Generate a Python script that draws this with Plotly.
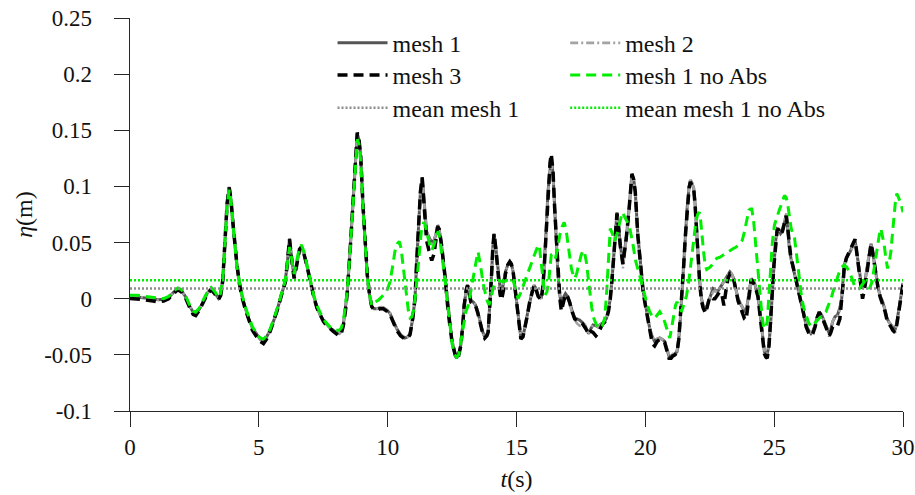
import plotly.graph_objects as go

# ---------------- data ----------------
mesh1_points = [
    (0.0, 0.002), (0.3, 0.0015), (0.6, 0.001), (0.9, 0.0), (1.1, -0.001), (1.3, -0.0005),
    (1.5, 0.001), (1.7, 0.006), (1.86, 0.009), (2.0, 0.007), (2.15, 0.002), (2.3, -0.006),
    (2.45, -0.012), (2.55, -0.013), (2.7, -0.009), (2.85, -0.002), (3.0, 0.005), (3.15, 0.009),
    (3.3, 0.005), (3.43, 0.0005), (3.52, 0.004), (3.6, 0.017), (3.69, 0.052), (3.77, 0.085),
    (3.85, 0.0995), (3.92, 0.088), (3.98, 0.071), (4.07, 0.048), (4.15, 0.030), (4.25, 0.014),
    (4.34, 0.003), (4.47, -0.008), (4.6, -0.0175), (4.75, -0.026), (4.92, -0.032), (5.05, -0.036),
    (5.18, -0.038), (5.3, -0.034), (5.44, -0.028), (5.6, -0.018), (5.76, -0.006), (5.9, 0.006),
    (6.02, 0.015), (6.1, 0.030), (6.19, 0.0536), (6.28, 0.035), (6.37, 0.0195), (6.48, 0.032),
    (6.58, 0.044), (6.65, 0.046), (6.75, 0.040), (6.86, 0.030), (7.0, 0.015), (7.12, 0.003),
    (7.25, -0.007), (7.38, -0.0145), (7.5, -0.019), (7.63, -0.023), (7.76, -0.026), (7.89, -0.028),
    (8.0, -0.030), (8.12, -0.031), (8.2, -0.029), (8.28, -0.023), (8.36, -0.010), (8.43, 0.005),
    (8.54, 0.042), (8.67, 0.095), (8.75, 0.130), (8.82, 0.147), (8.88, 0.142), (8.95, 0.128),
    (9.05, 0.080), (9.13, 0.045), (9.21, 0.021), (9.3, 0.003), (9.38, -0.007), (9.48, -0.009),
    (9.57, -0.009), (9.7, -0.008), (9.83, -0.008), (9.96, -0.010), (10.09, -0.013), (10.2, -0.019),
    (10.35, -0.0265), (10.5, -0.032), (10.67, -0.035), (10.78, -0.034), (10.87, -0.031), (10.97, -0.018),
    (11.06, 0.000), (11.12, 0.030), (11.19, 0.0655), (11.27, 0.095), (11.34, 0.108), (11.4, 0.090),
    (11.45, 0.070), (11.51, 0.060), (11.6, 0.055), (11.71, 0.050), (11.8, 0.052), (11.87, 0.057),
    (11.94, 0.0655), (12.0, 0.062), (12.09, 0.048), (12.22, 0.021), (12.35, -0.0116), (12.5, -0.038),
    (12.6, -0.049), (12.67, -0.053), (12.75, -0.050), (12.84, -0.041), (12.92, -0.022), (12.97, -0.0056),
    (13.05, 0.008), (13.1, 0.0123), (13.16, 0.006), (13.23, -0.0013), (13.32, -0.003), (13.41, -0.0056),
    (13.5, -0.012), (13.58, -0.0205), (13.68, -0.029), (13.77, -0.034), (13.85, -0.032), (13.9, -0.029),
    (13.97, -0.005), (14.03, 0.021), (14.08, 0.045), (14.13, 0.058), (14.2, 0.045), (14.29, 0.024),
    (14.36, 0.010), (14.42, 0.0045), (14.5, 0.014), (14.57, 0.024), (14.66, 0.030), (14.74, 0.033),
    (14.8, 0.031), (14.87, 0.024), (14.95, 0.008), (15.0, -0.0027), (15.08, -0.020), (15.17, -0.035),
    (15.25, -0.033), (15.32, -0.0265), (15.42, -0.014), (15.51, -0.0027), (15.6, 0.006), (15.68, 0.012),
    (15.76, 0.009), (15.84, 0.003), (15.96, 0.0002), (16.03, 0.012), (16.1, 0.036), (16.16, 0.065),
    (16.22, 0.095), (16.3, 0.118), (16.35, 0.126), (16.42, 0.110), (16.48, 0.080), (16.55, 0.050),
    (16.61, 0.021), (16.68, 0.004), (16.74, -0.0056), (16.82, 0.001), (16.9, 0.0045), (16.98, 0.002),
    (17.06, -0.0027), (17.15, -0.010), (17.26, -0.0175), (17.35, -0.018), (17.45, -0.019), (17.55, -0.021),
    (17.65, -0.0234), (17.72, -0.027), (17.8, -0.031), (17.88, -0.027), (17.97, -0.0234), (18.08, -0.024),
    (18.16, -0.025), (18.25, -0.023), (18.33, -0.022), (18.42, -0.020), (18.49, -0.0175), (18.57, -0.010),
    (18.64, 0.0002), (18.71, 0.018), (18.77, 0.036), (18.84, 0.060), (18.9, 0.0768), (18.96, 0.065),
    (19.03, 0.0477), (19.13, 0.0314), (19.2, 0.042), (19.26, 0.054), (19.37, 0.080), (19.43, 0.098),
    (19.48, 0.1115), (19.55, 0.106), (19.61, 0.095), (19.71, 0.0566), (19.84, 0.021), (19.92, 0.006),
    (20.01, -0.0056), (20.1, -0.017), (20.17, -0.0265), (20.27, -0.034), (20.36, -0.038), (20.46, -0.036),
    (20.56, -0.035), (20.65, -0.036), (20.75, -0.038), (20.85, -0.046), (20.92, -0.0513), (21.0, -0.051),
    (21.07, -0.050), (21.15, -0.049), (21.23, -0.047), (21.3, -0.035), (21.36, -0.0175), (21.42, 0.005),
    (21.49, 0.030), (21.55, 0.055), (21.62, 0.080), (21.7, 0.100), (21.75, 0.1055), (21.82, 0.102),
    (21.88, 0.098), (21.93, 0.085), (21.98, 0.0655), (22.05, 0.035), (22.11, 0.015), (22.18, 0.000),
    (22.24, -0.0056), (22.34, -0.010), (22.4, -0.006), (22.47, 0.0002), (22.55, 0.005), (22.63, 0.009),
    (22.7, 0.008), (22.79, 0.006), (22.88, 0.009), (22.96, 0.012), (23.05, 0.015), (23.12, 0.018),
    (23.2, 0.021), (23.28, 0.024), (23.35, 0.022), (23.43, 0.018), (23.5, 0.010), (23.6, 0.0002),
    (23.68, -0.004), (23.76, -0.007), (23.85, -0.011), (23.91, -0.0116), (23.98, 0.0002), (24.04, 0.010),
    (24.11, 0.018), (24.18, 0.016), (24.24, 0.0136), (24.3, 0.009), (24.37, 0.003), (24.43, -0.008),
    (24.5, -0.0234), (24.56, -0.036), (24.62, -0.047), (24.68, -0.050), (24.73, -0.050), (24.8, -0.040),
    (24.86, -0.0234), (24.92, 0.003), (24.99, 0.030), (25.05, 0.050), (25.12, 0.0625), (25.18, 0.062),
    (25.25, 0.058), (25.32, 0.060), (25.38, 0.0655), (25.47, 0.0745), (25.53, 0.062), (25.59, 0.0448),
    (25.65, 0.036), (25.72, 0.030), (25.8, 0.021), (25.89, 0.012), (25.97, 0.004), (26.05, -0.0027),
    (26.15, -0.013), (26.24, -0.0234), (26.33, -0.028), (26.43, -0.031), (26.5, -0.029), (26.59, -0.0234),
    (26.67, -0.016), (26.75, -0.0116), (26.85, -0.015), (26.95, -0.0205), (27.05, -0.027), (27.14, -0.031),
    (27.2, -0.027), (27.27, -0.0205), (27.36, -0.016), (27.46, -0.0145), (27.55, -0.008), (27.62, 0.0002),
    (27.67, 0.015), (27.72, 0.030), (27.8, 0.036), (27.88, 0.039), (27.95, 0.042), (28.0, 0.0448),
    (28.07, 0.048), (28.14, 0.052), (28.2, 0.042), (28.27, 0.030), (28.35, 0.018), (28.43, 0.009),
    (28.52, 0.015), (28.6, 0.027), (28.68, 0.040), (28.76, 0.049), (28.82, 0.042), (28.89, 0.030),
    (28.96, 0.018), (29.04, 0.009), (29.12, 0.002), (29.21, -0.0027), (29.3, -0.010), (29.38, -0.0175),
    (29.46, -0.021), (29.53, -0.0234), (29.6, -0.026), (29.69, -0.028), (29.76, -0.021), (29.82, -0.0116),
    (29.9, 0.000), (29.98, 0.012), (30.0, 0.014),
]

mesh2_points = [
    (0.0, 0.002), (0.3, 0.002), (0.6, 0.001), (0.9, 0.0), (1.1, -0.001), (1.3, 0.0),
    (1.5, 0.001), (1.7, 0.006), (1.86, 0.009), (2.0, 0.007), (2.15, 0.002), (2.3, -0.006),
    (2.45, -0.012), (2.55, -0.013), (2.7, -0.009), (2.85, -0.002), (3.0, 0.005), (3.15, 0.009),
    (3.3, 0.005), (3.43, 0.0005), (3.52, 0.004), (3.6, 0.017), (3.69, 0.051), (3.77, 0.084),
    (3.85, 0.097), (3.92, 0.087), (3.98, 0.070), (4.07, 0.048), (4.15, 0.030), (4.25, 0.014),
    (4.34, 0.003), (4.47, -0.008), (4.6, -0.0175), (4.75, -0.026), (4.92, -0.032), (5.05, -0.036),
    (5.18, -0.037), (5.3, -0.034), (5.44, -0.028), (5.6, -0.018), (5.76, -0.006), (5.9, 0.006),
    (6.02, 0.015), (6.1, 0.030), (6.19, 0.052), (6.28, 0.035), (6.37, 0.021), (6.48, 0.033),
    (6.58, 0.044), (6.65, 0.046), (6.75, 0.040), (6.86, 0.030), (7.0, 0.015), (7.12, 0.003),
    (7.25, -0.007), (7.38, -0.0145), (7.5, -0.019), (7.63, -0.023), (7.76, -0.026), (7.89, -0.028),
    (8.0, -0.030), (8.12, -0.031), (8.2, -0.029), (8.28, -0.023), (8.36, -0.010), (8.43, 0.005),
    (8.54, 0.042), (8.67, 0.094), (8.75, 0.128), (8.82, 0.145), (8.88, 0.141), (8.95, 0.127),
    (9.05, 0.080), (9.13, 0.045), (9.21, 0.021), (9.3, 0.003), (9.38, -0.007), (9.48, -0.009),
    (9.57, -0.009), (9.7, -0.007), (9.83, -0.008), (9.96, -0.010), (10.09, -0.013), (10.2, -0.019),
    (10.35, -0.0265), (10.5, -0.032), (10.67, -0.035), (10.78, -0.034), (10.87, -0.031), (10.97, -0.018),
    (11.06, 0.000), (11.12, 0.030), (11.19, 0.064), (11.27, 0.093), (11.34, 0.106), (11.4, 0.090),
    (11.45, 0.070), (11.51, 0.060), (11.6, 0.054), (11.71, 0.049), (11.8, 0.051), (11.87, 0.057),
    (11.94, 0.065), (12.0, 0.062), (12.09, 0.048), (12.22, 0.021), (12.35, -0.0116), (12.5, -0.037),
    (12.6, -0.047), (12.67, -0.051), (12.75, -0.049), (12.84, -0.041), (12.92, -0.022), (12.97, -0.0056),
    (13.05, 0.007), (13.1, 0.010), (13.16, 0.006), (13.23, -0.0013), (13.32, -0.003), (13.41, -0.0056),
    (13.5, -0.012), (13.58, -0.0205), (13.68, -0.030), (13.77, -0.036), (13.85, -0.033), (13.9, -0.029),
    (13.97, -0.005), (14.03, 0.021), (14.08, 0.044), (14.13, 0.056), (14.2, 0.045), (14.29, 0.024),
    (14.36, 0.010), (14.42, 0.005), (14.5, 0.014), (14.57, 0.024), (14.66, 0.030), (14.74, 0.033),
    (14.8, 0.031), (14.87, 0.024), (14.95, 0.008), (15.0, -0.0027), (15.08, -0.020), (15.17, -0.035),
    (15.25, -0.033), (15.32, -0.0265), (15.42, -0.014), (15.51, -0.0027), (15.6, 0.006), (15.68, 0.012),
    (15.76, 0.009), (15.84, 0.003), (15.96, 0.0002), (16.03, 0.012), (16.1, 0.036), (16.16, 0.064),
    (16.22, 0.093), (16.3, 0.115), (16.35, 0.122), (16.42, 0.108), (16.48, 0.080), (16.55, 0.050),
    (16.61, 0.021), (16.68, 0.004), (16.74, -0.005), (16.82, -0.001), (16.9, 0.000), (16.98, 0.0),
    (17.06, -0.004), (17.15, -0.012), (17.26, -0.019), (17.35, -0.022), (17.45, -0.024), (17.55, -0.023),
    (17.65, -0.0234), (17.72, -0.027), (17.8, -0.030), (17.88, -0.027), (17.97, -0.0234), (18.08, -0.024),
    (18.16, -0.025), (18.25, -0.023), (18.33, -0.022), (18.42, -0.020), (18.49, -0.0175), (18.57, -0.010),
    (18.64, 0.0002), (18.71, 0.018), (18.77, 0.036), (18.84, 0.058), (18.9, 0.074), (18.96, 0.062),
    (19.03, 0.044), (19.13, 0.027), (19.2, 0.040), (19.26, 0.053), (19.37, 0.079), (19.43, 0.096),
    (19.48, 0.109), (19.55, 0.105), (19.61, 0.095), (19.71, 0.0566), (19.84, 0.021), (19.92, 0.006),
    (20.01, -0.0056), (20.1, -0.017), (20.17, -0.0265), (20.27, -0.034), (20.36, -0.037), (20.46, -0.036),
    (20.56, -0.035), (20.65, -0.036), (20.75, -0.038), (20.85, -0.045), (20.92, -0.050), (21.0, -0.050),
    (21.07, -0.049), (21.15, -0.048), (21.23, -0.046), (21.3, -0.035), (21.36, -0.0175), (21.42, 0.005),
    (21.49, 0.030), (21.55, 0.055), (21.62, 0.080), (21.7, 0.101), (21.75, 0.106), (21.82, 0.103),
    (21.88, 0.098), (21.93, 0.085), (21.98, 0.0655), (22.05, 0.035), (22.11, 0.015), (22.18, 0.000),
    (22.24, -0.0056), (22.34, -0.009), (22.4, -0.006), (22.47, 0.0), (22.55, 0.002), (22.63, 0.006),
    (22.7, 0.007), (22.79, 0.006), (22.88, 0.009), (22.96, 0.012), (23.05, 0.015), (23.12, 0.018),
    (23.2, 0.021), (23.28, 0.024), (23.35, 0.022), (23.43, 0.018), (23.5, 0.010), (23.6, 0.0002),
    (23.68, -0.004), (23.76, -0.007), (23.85, -0.011), (23.91, -0.0116), (23.98, 0.0002), (24.04, 0.010),
    (24.11, 0.018), (24.18, 0.016), (24.24, 0.0136), (24.3, 0.009), (24.37, 0.003), (24.43, -0.008),
    (24.5, -0.0234), (24.56, -0.036), (24.62, -0.046), (24.68, -0.049), (24.73, -0.049), (24.8, -0.040),
    (24.86, -0.0234), (24.92, 0.003), (24.99, 0.030), (25.05, 0.050), (25.12, 0.062), (25.18, 0.062),
    (25.25, 0.059), (25.32, 0.062), (25.38, 0.068), (25.47, 0.076), (25.53, 0.063), (25.59, 0.0448),
    (25.65, 0.036), (25.72, 0.030), (25.8, 0.021), (25.89, 0.012), (25.97, 0.004), (26.05, -0.0027),
    (26.15, -0.013), (26.24, -0.0234), (26.33, -0.028), (26.43, -0.030), (26.5, -0.029), (26.59, -0.0234),
    (26.67, -0.016), (26.75, -0.0116), (26.85, -0.015), (26.95, -0.0205), (27.05, -0.026), (27.14, -0.029),
    (27.2, -0.026), (27.27, -0.020), (27.36, -0.017), (27.46, -0.016), (27.55, -0.010), (27.62, 0.0),
    (27.67, 0.014), (27.72, 0.029), (27.8, 0.036), (27.88, 0.039), (27.95, 0.041), (28.0, 0.044),
    (28.07, 0.047), (28.14, 0.050), (28.2, 0.042), (28.27, 0.030), (28.35, 0.018), (28.43, 0.010),
    (28.52, 0.015), (28.6, 0.027), (28.68, 0.040), (28.76, 0.048), (28.82, 0.042), (28.89, 0.030),
    (28.96, 0.018), (29.04, 0.009), (29.12, 0.002), (29.21, -0.0027), (29.3, -0.010), (29.38, -0.0175),
    (29.46, -0.021), (29.53, -0.0234), (29.6, -0.026), (29.69, -0.029), (29.76, -0.022), (29.82, -0.012),
    (29.9, 0.000), (29.98, 0.012), (30.0, 0.014),
]

mesh3_points = [
    (0.0, 0.0003), (0.3, 0.0), (0.6, -0.001), (0.9, -0.002), (1.1, -0.003), (1.3, -0.002),
    (1.5, 0.0), (1.7, 0.005), (1.86, 0.008), (2.0, 0.006), (2.15, 0.001), (2.3, -0.007),
    (2.45, -0.014), (2.55, -0.015), (2.7, -0.010), (2.85, -0.003), (3.0, 0.004), (3.15, 0.008),
    (3.3, 0.004), (3.43, -0.001), (3.52, 0.003), (3.6, 0.016), (3.69, 0.052), (3.77, 0.085),
    (3.85, 0.099), (3.92, 0.088), (3.98, 0.071), (4.07, 0.048), (4.15, 0.030), (4.25, 0.013),
    (4.34, 0.002), (4.47, -0.009), (4.6, -0.019), (4.75, -0.028), (4.92, -0.034), (5.05, -0.038),
    (5.18, -0.040), (5.3, -0.036), (5.44, -0.029), (5.6, -0.019), (5.76, -0.007), (5.9, 0.005),
    (6.02, 0.014), (6.1, 0.030), (6.19, 0.053), (6.28, 0.034), (6.37, 0.018), (6.48, 0.031),
    (6.58, 0.044), (6.65, 0.046), (6.75, 0.040), (6.86, 0.030), (7.0, 0.015), (7.12, 0.003),
    (7.25, -0.008), (7.38, -0.015), (7.5, -0.020), (7.63, -0.024), (7.76, -0.027), (7.89, -0.029),
    (8.0, -0.031), (8.12, -0.033), (8.2, -0.031), (8.28, -0.024), (8.36, -0.011), (8.43, 0.005),
    (8.54, 0.042), (8.67, 0.095), (8.75, 0.130), (8.82, 0.148), (8.88, 0.143), (8.95, 0.128),
    (9.05, 0.080), (9.13, 0.045), (9.21, 0.021), (9.3, 0.003), (9.38, -0.007), (9.48, -0.010),
    (9.57, -0.010), (9.7, -0.009), (9.83, -0.009), (9.96, -0.011), (10.09, -0.014), (10.2, -0.020),
    (10.35, -0.028), (10.5, -0.033), (10.67, -0.036), (10.78, -0.035), (10.87, -0.032), (10.97, -0.018),
    (11.06, 0.000), (11.12, 0.030), (11.19, 0.0655), (11.27, 0.095), (11.34, 0.108), (11.4, 0.088),
    (11.45, 0.066), (11.51, 0.052), (11.6, 0.043), (11.71, 0.034), (11.8, 0.040), (11.87, 0.052),
    (11.94, 0.064), (12.0, 0.062), (12.09, 0.048), (12.22, 0.021), (12.35, -0.012), (12.5, -0.039),
    (12.6, -0.050), (12.67, -0.054), (12.75, -0.051), (12.84, -0.042), (12.92, -0.022), (12.97, -0.006),
    (13.05, 0.008), (13.1, 0.012), (13.16, 0.005), (13.23, -0.003), (13.32, -0.004), (13.41, -0.006),
    (13.5, -0.013), (13.58, -0.021), (13.68, -0.030), (13.77, -0.035), (13.85, -0.033), (13.9, -0.030),
    (13.97, -0.006), (14.03, 0.020), (14.08, 0.045), (14.13, 0.058), (14.2, 0.044), (14.29, 0.021),
    (14.36, 0.004), (14.42, -0.001), (14.5, 0.008), (14.57, 0.022), (14.66, 0.030), (14.74, 0.033),
    (14.8, 0.031), (14.87, 0.024), (14.95, 0.007), (15.0, -0.004), (15.08, -0.021), (15.17, -0.036),
    (15.25, -0.034), (15.32, -0.027), (15.42, -0.015), (15.51, -0.003), (15.6, 0.006), (15.68, 0.012),
    (15.76, 0.008), (15.84, 0.002), (15.96, -0.001), (16.03, 0.012), (16.1, 0.037), (16.16, 0.066),
    (16.22, 0.097), (16.3, 0.121), (16.35, 0.129), (16.42, 0.112), (16.48, 0.081), (16.55, 0.050),
    (16.61, 0.020), (16.68, 0.001), (16.74, -0.011), (16.82, -0.004), (16.9, 0.004), (16.98, 0.002),
    (17.06, -0.003), (17.15, -0.011), (17.26, -0.018), (17.35, -0.019), (17.45, -0.020), (17.55, -0.022),
    (17.65, -0.025), (17.72, -0.028), (17.8, -0.032), (17.88, -0.029), (17.97, -0.030), (18.08, -0.033),
    (18.16, -0.031), (18.25, -0.026), (18.33, -0.023), (18.42, -0.021), (18.49, -0.018), (18.57, -0.011),
    (18.64, 0.0), (18.71, 0.018), (18.77, 0.036), (18.84, 0.060), (18.9, 0.076), (18.96, 0.064),
    (19.03, 0.047), (19.13, 0.031), (19.2, 0.042), (19.26, 0.054), (19.37, 0.080), (19.43, 0.098),
    (19.48, 0.111), (19.55, 0.106), (19.61, 0.095), (19.71, 0.056), (19.84, 0.020), (19.92, 0.005),
    (20.01, -0.007), (20.1, -0.019), (20.17, -0.029), (20.27, -0.040), (20.36, -0.042), (20.46, -0.038),
    (20.56, -0.036), (20.65, -0.037), (20.75, -0.039), (20.85, -0.047), (20.92, -0.053), (21.0, -0.053),
    (21.07, -0.051), (21.15, -0.050), (21.23, -0.048), (21.3, -0.036), (21.36, -0.018), (21.42, 0.005),
    (21.49, 0.030), (21.55, 0.055), (21.62, 0.080), (21.7, 0.099), (21.75, 0.104), (21.82, 0.101),
    (21.88, 0.097), (21.93, 0.084), (21.98, 0.065), (22.05, 0.034), (22.11, 0.014), (22.18, -0.002),
    (22.24, -0.008), (22.34, -0.013), (22.4, -0.008), (22.47, -0.001), (22.55, 0.002), (22.63, 0.0),
    (22.7, 0.0), (22.79, 0.003), (22.88, 0.006), (22.96, 0.005), (23.05, -0.006), (23.12, 0.006),
    (23.2, 0.017), (23.28, 0.022), (23.35, 0.021), (23.43, 0.017), (23.5, 0.009), (23.6, -0.002),
    (23.68, -0.007), (23.76, -0.012), (23.85, -0.018), (23.91, -0.019), (23.98, -0.004), (24.04, 0.008),
    (24.11, 0.017), (24.18, 0.015), (24.24, 0.012), (24.3, 0.008), (24.37, 0.002), (24.43, -0.009),
    (24.5, -0.025), (24.56, -0.038), (24.62, -0.049), (24.68, -0.052), (24.73, -0.053), (24.8, -0.042),
    (24.86, -0.024), (24.92, 0.003), (24.99, 0.030), (25.05, 0.050), (25.12, 0.062), (25.18, 0.061),
    (25.25, 0.057), (25.32, 0.060), (25.38, 0.066), (25.47, 0.074), (25.53, 0.062), (25.59, 0.045),
    (25.65, 0.036), (25.72, 0.030), (25.8, 0.021), (25.89, 0.012), (25.97, 0.003), (26.05, -0.004),
    (26.15, -0.014), (26.24, -0.025), (26.33, -0.030), (26.43, -0.033), (26.5, -0.031), (26.59, -0.025),
    (26.67, -0.017), (26.75, -0.012), (26.85, -0.016), (26.95, -0.022), (27.05, -0.029), (27.14, -0.033),
    (27.2, -0.030), (27.27, -0.025), (27.36, -0.023), (27.46, -0.024), (27.55, -0.018), (27.62, -0.004),
    (27.67, 0.012), (27.72, 0.028), (27.8, 0.036), (27.88, 0.040), (27.95, 0.044), (28.0, 0.047),
    (28.07, 0.050), (28.14, 0.053), (28.2, 0.042), (28.27, 0.028), (28.35, 0.012), (28.43, 0.0),
    (28.52, 0.010), (28.6, 0.025), (28.68, 0.040), (28.76, 0.049), (28.82, 0.042), (28.89, 0.030),
    (28.96, 0.017), (29.04, 0.008), (29.12, 0.001), (29.21, -0.004), (29.3, -0.011), (29.38, -0.019),
    (29.46, -0.023), (29.53, -0.025), (29.6, -0.028), (29.69, -0.030), (29.76, -0.023), (29.82, -0.013),
    (29.9, -0.001), (29.98, 0.011), (30.0, 0.013),
]

noabs_points = [
    (0.0, 0.003), (0.3, 0.003), (0.6, 0.002), (0.9, 0.001), (1.1, 0.0), (1.3, 0.0),
    (1.5, 0.002), (1.7, 0.007), (1.86, 0.0095), (2.0, 0.008), (2.15, 0.003), (2.3, -0.005),
    (2.45, -0.011), (2.55, -0.012), (2.7, -0.008), (2.85, -0.001), (3.0, 0.006), (3.15, 0.010),
    (3.3, 0.006), (3.43, 0.001), (3.52, 0.005), (3.6, 0.018), (3.69, 0.050), (3.77, 0.083),
    (3.85, 0.097), (3.92, 0.087), (3.98, 0.070), (4.07, 0.047), (4.15, 0.029), (4.25, 0.014),
    (4.34, 0.004), (4.47, -0.007), (4.6, -0.016), (4.75, -0.025), (4.92, -0.031), (5.05, -0.035),
    (5.18, -0.036), (5.3, -0.033), (5.44, -0.027), (5.6, -0.017), (5.76, -0.005), (5.9, 0.007),
    (6.02, 0.016), (6.1, 0.030), (6.19, 0.046), (6.28, 0.035), (6.37, 0.022), (6.48, 0.035),
    (6.58, 0.046), (6.65, 0.048), (6.75, 0.042), (6.86, 0.031), (7.0, 0.016), (7.12, 0.004),
    (7.25, -0.006), (7.38, -0.013), (7.5, -0.018), (7.63, -0.022), (7.76, -0.025), (7.89, -0.027),
    (8.0, -0.028), (8.12, -0.028), (8.2, -0.026), (8.28, -0.020), (8.36, -0.008), (8.43, 0.006),
    (8.54, 0.042), (8.67, 0.092), (8.75, 0.125), (8.82, 0.142), (8.88, 0.138), (8.95, 0.124),
    (9.05, 0.078), (9.13, 0.044), (9.21, 0.020), (9.3, 0.003), (9.38, -0.006), (9.5, -0.003),
    (9.64, -0.0013), (9.78, 0.002), (9.9, 0.0045), (10.0, 0.009), (10.09, 0.015), (10.2, 0.030),
    (10.28, 0.042), (10.37, 0.049), (10.45, 0.051), (10.52, 0.045), (10.6, 0.030), (10.67, 0.015),
    (10.73, 0.0002), (10.8, -0.010), (10.87, -0.017), (10.94, -0.016), (11.0, -0.011), (11.08, 0.003),
    (11.15, 0.021), (11.22, 0.040), (11.32, 0.063), (11.4, 0.068), (11.45, 0.066), (11.51, 0.060),
    (11.57, 0.054), (11.64, 0.047), (11.71, 0.043), (11.8, 0.048), (11.9, 0.056), (11.96, 0.060),
    (12.02, 0.0536), (12.12, 0.038), (12.22, 0.018), (12.32, -0.003), (12.41, -0.0234), (12.5, -0.040),
    (12.6, -0.050), (12.68, -0.052), (12.76, -0.050), (12.85, -0.038), (12.93, -0.0234), (13.03, -0.012),
    (13.13, -0.0056), (13.2, 0.004), (13.28, 0.015), (13.35, 0.024), (13.41, 0.030), (13.47, 0.038),
    (13.51, 0.0418), (13.57, 0.035), (13.64, 0.024), (13.7, 0.014), (13.77, 0.006), (13.85, -0.001),
    (13.93, -0.0056), (14.0, -0.001), (14.09, 0.009), (14.2, 0.014), (14.29, 0.0165), (14.38, 0.016),
    (14.48, 0.015), (14.58, 0.016), (14.67, 0.0165), (14.77, 0.017), (14.87, 0.0165), (14.96, 0.008),
    (15.06, 0.0002), (15.14, 0.004), (15.22, 0.009), (15.33, 0.016), (15.45, 0.024), (15.55, 0.031),
    (15.64, 0.037), (15.74, 0.043), (15.84, 0.048), (15.9, 0.044), (15.96, 0.033), (16.03, 0.016),
    (16.1, 0.003), (16.18, 0.006), (16.25, 0.015), (16.3, 0.028), (16.35, 0.039), (16.43, 0.040),
    (16.51, 0.036), (16.6, 0.045), (16.68, 0.0566), (16.77, 0.064), (16.85, 0.068), (16.92, 0.062),
    (16.98, 0.051), (17.05, 0.038), (17.13, 0.027), (17.2, 0.021), (17.26, 0.018), (17.33, 0.022),
    (17.41, 0.030), (17.5, 0.038), (17.58, 0.043), (17.65, 0.040), (17.71, 0.033), (17.78, 0.018),
    (17.84, 0.003), (17.92, -0.008), (18.0, -0.0175), (18.1, -0.023), (18.23, -0.0265), (18.33, -0.024),
    (18.42, -0.0175), (18.49, 0.002), (18.55, 0.027), (18.6, 0.048), (18.64, 0.0625), (18.72, 0.058),
    (18.81, 0.051), (18.9, 0.058), (19.0, 0.068), (19.11, 0.077), (19.24, 0.071), (19.37, 0.0655),
    (19.5, 0.051), (19.63, 0.033), (19.78, 0.021), (19.88, 0.012), (19.97, 0.003), (20.07, -0.005),
    (20.17, -0.0116), (20.27, -0.016), (20.36, -0.0175), (20.46, -0.015), (20.56, -0.0116), (20.65, -0.015),
    (20.75, -0.0205), (20.85, -0.028), (20.95, -0.035), (21.02, -0.026), (21.1, -0.0145), (21.17, -0.006),
    (21.23, -0.0027), (21.3, -0.006), (21.4, -0.0116), (21.5, -0.005), (21.6, 0.003), (21.7, 0.018),
    (21.8, 0.036), (21.88, 0.052), (21.96, 0.068), (22.03, 0.075), (22.1, 0.077), (22.15, 0.069),
    (22.19, 0.0566), (22.26, 0.042), (22.32, 0.030), (22.38, 0.026), (22.45, 0.027), (22.55, 0.029),
    (22.62, 0.0314), (22.7, 0.034), (22.77, 0.036), (22.9, 0.037), (23.03, 0.039), (23.15, 0.041),
    (23.28, 0.043), (23.4, 0.0445), (23.53, 0.046), (23.65, 0.049), (23.76, 0.052), (23.82, 0.057),
    (23.89, 0.0655), (23.95, 0.074), (24.02, 0.079), (24.08, 0.080), (24.13, 0.080), (24.2, 0.070),
    (24.24, 0.0596), (24.3, 0.042), (24.34, 0.027), (24.4, 0.012), (24.47, -0.0027), (24.53, -0.016),
    (24.6, -0.0265), (24.67, -0.026), (24.73, -0.0205), (24.8, 0.004), (24.86, 0.030), (24.93, 0.050),
    (25.01, 0.0655), (25.08, 0.071), (25.14, 0.0745), (25.2, 0.079), (25.27, 0.0834), (25.34, 0.089),
    (25.4, 0.092), (25.47, 0.090), (25.53, 0.0834), (25.6, 0.072), (25.66, 0.0625), (25.72, 0.058),
    (25.79, 0.054), (25.85, 0.043), (25.92, 0.030), (26.0, 0.014), (26.07, 0.0002), (26.15, -0.008),
    (26.24, -0.0145), (26.33, -0.021), (26.43, -0.025), (26.53, -0.023), (26.63, -0.0205), (26.72, -0.018),
    (26.82, -0.016), (26.92, -0.014), (27.01, -0.0116), (27.1, -0.006), (27.21, 0.0002), (27.28, 0.006),
    (27.36, 0.012), (27.45, 0.018), (27.53, 0.024), (27.62, 0.028), (27.72, 0.030), (27.82, 0.028),
    (27.92, 0.024), (28.02, 0.018), (28.11, 0.012), (28.2, 0.010), (28.3, 0.009), (28.4, 0.012),
    (28.5, 0.015), (28.6, 0.012), (28.7, 0.009), (28.8, 0.015), (28.89, 0.027), (28.95, 0.038),
    (29.02, 0.048), (29.08, 0.057), (29.14, 0.0625), (29.2, 0.056), (29.27, 0.048), (29.33, 0.037),
    (29.4, 0.027), (29.47, 0.033), (29.53, 0.0418), (29.58, 0.055), (29.63, 0.068), (29.7, 0.085),
    (29.76, 0.0936), (29.84, 0.090), (29.92, 0.085), (30.0, 0.077),
]

mean_mesh1 = 0.0092
mean_noabs = 0.0165
t_range = [0, 30]
eta_range = [-0.1, 0.25]

x_ticks = [0, 5, 10, 15, 20, 25, 30]
y_ticks = [-0.1, -0.05, 0, 0.05, 0.1, 0.15, 0.2, 0.25]
y_tick_text = ["-0.1", "-0.05", "0", "0.05", "0.1", "0.15", "0.2", "0.25"]

# ---------------- figure ----------------
FONT = "Liberation Serif"
GREEN = "#00ee00"
TXT = "#111111"
AX = "#262626"
LABEL_GAP = "\u00a0\u00a0\u00a0"   # keeps the y tick labels clear of the long ticks


def xy(points):
    return [p[0] for p in points], [p[1] for p in points]


fig = go.Figure()

x1, y1 = xy(mesh1_points)
fig.add_trace(go.Scatter(x=x1, y=y1, mode="lines", name="mesh 1", legend="legend",
                         line=dict(color="#555555", width=3)))
x2, y2 = xy(mesh2_points)
fig.add_trace(go.Scatter(x=x2, y=y2, mode="lines", name="mesh 2", legend="legend2",
                         line=dict(color="#a3a3a3", width=2.6, dash="8px,3px,2px,3px")))
x3, y3 = xy(mesh3_points)
fig.add_trace(go.Scatter(x=x3, y=y3, mode="lines", name="mesh 3", legend="legend3",
                         line=dict(color="#000000", width=3.5, dash="10px,6px")))
x4, y4 = xy(noabs_points)
fig.add_trace(go.Scatter(x=x4, y=y4, mode="lines", name="mesh 1 no Abs", legend="legend4",
                         line=dict(color=GREEN, width=3, dash="10px,6px")))
fig.add_trace(go.Scatter(x=t_range, y=[mean_mesh1, mean_mesh1], mode="lines", name="mean mesh 1",
                         legend="legend5",
                         line=dict(color="#8c8c8c", width=2.5, dash="2px,2px")))
fig.add_trace(go.Scatter(x=t_range, y=[mean_noabs, mean_noabs], mode="lines",
                         name="mean mesh 1 no Abs", legend="legend6",
                         line=dict(color=GREEN, width=2.5, dash="2px,2px")))

tick_font = dict(family=FONT, size=23, color=TXT)
title_font = dict(family=FONT, size=24, color=TXT)

# legend rows / columns (paper coordinates)
col_x = [0.262, 0.563]
row_y = [0.993, 0.911, 0.828]


def legend_box(x, y):
    return dict(x=x, y=y, xanchor="left", yanchor="top", bgcolor="rgba(0,0,0,0)",
                font=dict(family=FONT, size=24, color=TXT), itemwidth=50, borderwidth=0)


fig.update_layout(
    width=915, height=495,
    margin=dict(l=130, r=12, t=18, b=84),
    paper_bgcolor="white", plot_bgcolor="white",
    font=dict(family=FONT, size=23, color=TXT),
    xaxis=dict(range=t_range, tickvals=x_ticks, ticktext=[str(v) for v in x_ticks],
               showline=True, linecolor=AX, linewidth=1.2, ticks="outside", ticklen=15,
               tickcolor=AX, tickwidth=1.2, showgrid=False, zeroline=False, automargin=False,
               tickfont=tick_font,
               title=dict(text="<i>t</i>(s)", font=title_font, standoff=11)),
    yaxis=dict(range=eta_range, tickvals=y_ticks,
               ticktext=[s + LABEL_GAP for s in y_tick_text], tickfont=tick_font,
               showline=True, linecolor=AX, linewidth=1.2, ticks="outside", ticklen=15,
               tickcolor=AX, tickwidth=1.2, showgrid=False, zeroline=False, automargin=False,
               title=dict(text="<i>η</i>(m)", font=title_font, standoff=4)),
    legend=legend_box(col_x[0], row_y[0]),
    legend2=legend_box(col_x[1], row_y[0]),
    legend3=legend_box(col_x[0], row_y[1]),
    legend4=legend_box(col_x[1], row_y[1]),
    legend5=legend_box(col_x[0], row_y[2]),
    legend6=legend_box(col_x[1], row_y[2]),
    showlegend=True,
)

fig.write_html("out.html")
